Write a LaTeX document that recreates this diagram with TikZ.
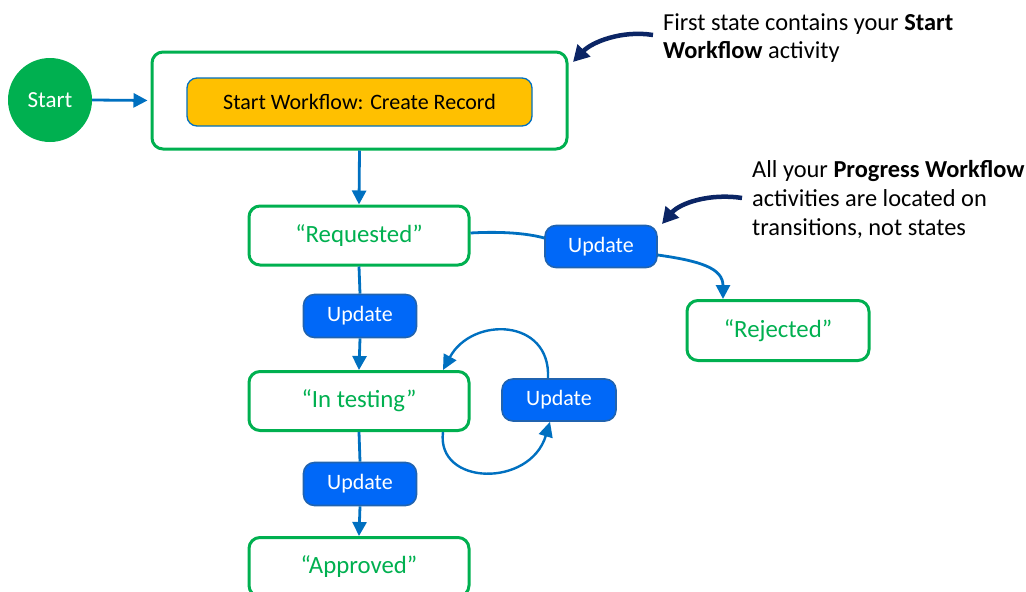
\documentclass[tikz,border=0pt]{standalone}
\usepackage{fontspec}
\setmainfont{Carlito}
\usetikzlibrary{arrows.meta,calc}

\definecolor{stategreen}{HTML}{00B050}
\definecolor{flowblue}{HTML}{0070C0}
\definecolor{updfill}{HTML}{0068F8}
\definecolor{updedge}{HTML}{2063B0}
\definecolor{actyellow}{HTML}{FFC000}
\definecolor{navy}{HTML}{0B2565}

\tikzset{
  statebox/.style={draw=stategreen, line width=3pt, rounded corners=11pt, fill=white,
    text=stategreen, inner sep=0pt, font=\fontsize{24.8}{28}\selectfont},
  updbox/.style={draw=updedge, line width=1.6pt, rounded corners=11pt, fill=updfill,
    text=white, inner sep=0pt, minimum width=113pt, minimum height=43pt,
    font=\fontsize{22}{26}\selectfont},
  flow/.style={draw=flowblue, line width=2.8pt, -{Triangle[length=14pt,width=14pt]}},
  flowline/.style={draw=flowblue, line width=2.8pt},
  loopflow/.style={draw=flowblue, line width=2.4pt, -{Triangle[length=15pt,width=14pt]}},
  note/.style={align=left, anchor=west, inner sep=0pt, text=black},
  pointer/.style={draw=navy, line width=4.5pt, -{Triangle[length=16pt,width=17pt]}}
}

\begin{document}
\begin{tikzpicture}[x=1pt,y=1pt]
  \useasboundingbox (0,0) rectangle (1026,-592);

  % start marker
  \node[circle, fill=stategreen, text=white, minimum size=84pt, inner sep=0pt,
        font=\fontsize{23}{27}\selectfont] (start) at (50,-100) {Start};

  % first state with its Start Workflow activity
  \node[statebox, minimum width=415pt, minimum height=97pt] (first) at (359.5,-100.5) {};
  \node[draw=flowblue, line width=1.3pt, fill=actyellow, rounded corners=10pt,
        minimum width=345pt, minimum height=48pt, inner sep=0pt,
        font=\fontsize{22}{26}\selectfont] (create) at (359.5,-102) {Start Workflow: Create Record};

  % states
  \node[statebox, minimum width=220pt, minimum height=59pt] (req)  at (359,-235.5) {“Requested”};
  \node[statebox, minimum width=220pt, minimum height=59pt] (test) at (359,-401) {“In testing”};
  \node[statebox, minimum width=220pt, minimum height=59pt] (appr) at (359,-567) {“Approved”};
  \node[statebox, minimum width=182pt, minimum height=60pt] (rej)  at (778,-330.5) {“Rejected”};

  % transitions carrying Progress Workflow activities
  \node[updbox] (upd1) at (360,-316) {Update};
  \node[updbox] (upd2) at (360,-484) {Update};
  \node[updbox, minimum width=112pt, minimum height=42pt] (upd3) at (601,-246.5) {Update};
  \node[updbox, minimum width=114pt, minimum height=42pt] (updl) at (559,-400) {Update};

  % main flow
  \draw[flow, shorten >=3pt] (start.east) -- (first.west);
  \draw[flow] (first.south) -- (req.north);
  \draw[flowline] (req.south) -- (upd1.north);
  \draw[flow] (upd1.south) -- (test.north);
  \draw[flowline] (test.south) -- (upd2.north);
  \draw[flow] (upd2.south) -- (appr.north);

  % rejection branch
  \draw[flowline] ($(req.east)+(0,2.5)$) .. controls (505,-231) and (530,-234) .. ($(upd3.west)+(0,8.5)$);
  \draw[flow] ($(upd3.east)+(0,-8.5)$) .. controls (700,-261) and (723,-268) .. ($(rej.north)+(-55,0)$);

  % self loop on "In testing"
  \draw[loopflow] ($(updl.north)+(-11,0)$) .. controls (551,-318) and (472,-316) .. ($(test.north)+(84,0)$);
  \draw[loopflow] ($(test.south)+(84,0)$) .. controls (436,-486) and (530,-488) .. ($(updl.south)+(-9,0)$);

  % annotations
  \node[note, font=\fontsize{24.4}{27.5}\selectfont] (note1) at (663,-38)
    {First state contains your \textbf{Start}\\\textbf{Workflow} activity};
  \node[note, font=\fontsize{24.4}{29}\selectfont] (note2) at (752,-199.5)
    {All your \textbf{Progress Workflow}\\activities are located on\\transitions, not states};

  \coordinate (tip1) at (573,-62);
  \coordinate (tip2) at (662,-224);
  \draw[pointer] ($(note1.west)+(-10,3)$) .. controls (622,-30) and (592,-42) .. (tip1);
  \draw[pointer] ($(note2.west)+(-10,1.5)$) .. controls (710,-193) and (680,-203) .. (tip2);
\end{tikzpicture}
\end{document}
